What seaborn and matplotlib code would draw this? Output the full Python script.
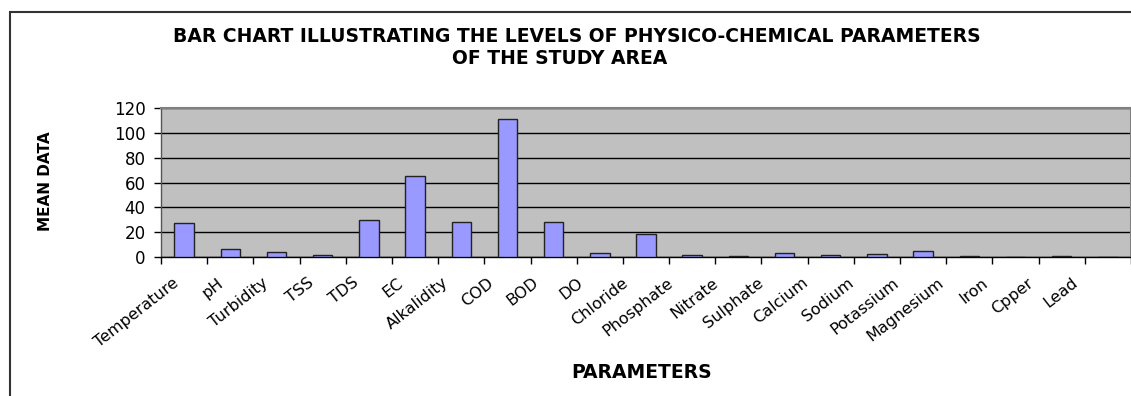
import numpy as np
import pandas as pd
import matplotlib
matplotlib.use("Agg")
import matplotlib.pyplot as plt
import matplotlib.transforms as mtransforms
from matplotlib.patches import Rectangle
import seaborn as sb

parameters = ["Temperature", "pH", "Turbidity", "TSS", "TDS", "EC", "Alkalidity",
              "COD", "BOD", "DO", "Chloride", "Phosphate", "Nitrate", "Sulphate",
              "Calcium", "Sodium", "Potassium", "Magnesium", "Iron", "Cpper", "Lead"]
mean_data = [27.2, 6.6, 3.8, 1.8, 29.9, 65.2, 27.8,
             111.2, 27.8, 3.5, 18.2, 1.8, 1.0, 3.5,
             1.8, 2.6, 4.5, 0.7, 0.05, 0.6, 0.0]
y_ticks = [0, 20, 40, 60, 80, 100, 120]

df = pd.DataFrame({"Parameter": parameters, "Mean": mean_data})

sb.set_style("white")
plt.rcParams["font.family"] = ["DejaVu Sans"]
plt.rcParams["text.color"] = "black"
plt.rcParams["xtick.color"] = "black"
plt.rcParams["ytick.color"] = "black"

fig = plt.figure(figsize=(11.31, 3.96), dpi=100)
ax = fig.add_axes([161 / 1131, 139 / 396, 970 / 1131, 149 / 396])
ax.set_facecolor("#C0C0C0")

sb.barplot(data=df, x="Parameter", y="Mean", color="#9999FF", saturation=1,
           width=0.42, edgecolor="#222222", linewidth=1.0, ax=ax, zorder=3)

n = len(parameters)
ax.set_xlim(-0.5, n - 0.5)
ax.set_ylim(0, 120)
ax.set_yticks(y_ticks)
ax.yaxis.grid(True, color="black", linewidth=1.0, zorder=1)
ax.set_axisbelow(True)

# category boundaries carry the tick marks, centres carry the labels
ax.set_xticks(np.arange(-0.5, n, 1.0))
ax.set_xticklabels([])
ax.set_xticks(np.arange(n), minor=True)
ax.set_xticklabels(parameters, minor=True, rotation=38, ha="right",
                   rotation_mode="anchor", fontsize=11.5)
ax.tick_params(axis="x", which="major", direction="out", length=5, width=1,
               color="black", bottom=True)
ax.tick_params(axis="x", which="minor", length=0, pad=13)
ax.tick_params(axis="y", direction="out", length=5, width=1, color="black",
               left=True, labelsize=12, pad=6)
# labels drift left of their categories, as in the original chart
for i, lbl in enumerate(ax.get_xticklabels(minor=True)):
    dx = -(12 + 1.2 * i) / 100
    lbl.set_transform(lbl.get_transform() +
                      mtransforms.ScaledTranslation(dx, 0, fig.dpi_scale_trans))

for side in ["top", "right"]:
    ax.spines[side].set_color("#808080")
    ax.spines[side].set_linewidth(1.5)
ax.spines["left"].set_color("#555555")
ax.spines["bottom"].set_color("black")
ax.spines["left"].set_linewidth(1.0)
ax.spines["bottom"].set_linewidth(1.0)

ax.set_xlabel("")
ax.set_ylabel("")
fig.text(45 / 1131, 1 - 181 / 396, "MEAN DATA", rotation=90, ha="center",
         va="center", fontsize=11, fontweight="bold")
fig.text(642 / 1131, 1 - 373 / 396, "PARAMETERS", ha="center", va="center",
         fontsize=13.5, fontweight="bold")
fig.text(577 / 1131, 1 - 36 / 396,
         "BAR CHART ILLUSTRATING THE LEVELS OF PHYSICO-CHEMICAL PARAMETERS",
         ha="center", va="center", fontsize=13.5, fontweight="bold")
fig.text(560 / 1131, 1 - 58 / 396, "OF THE STUDY AREA",
         ha="center", va="center", fontsize=13.5, fontweight="bold")

# outer chart frame, cropped at right and bottom
fig.patches.append(Rectangle((9.5 / 1131, -0.2), 1.2, 1.2 - 12 / 396,
                             transform=fig.transFigure, fill=False,
                             edgecolor="#333333", linewidth=1.5))

fig.savefig("out.png", dpi=100)
